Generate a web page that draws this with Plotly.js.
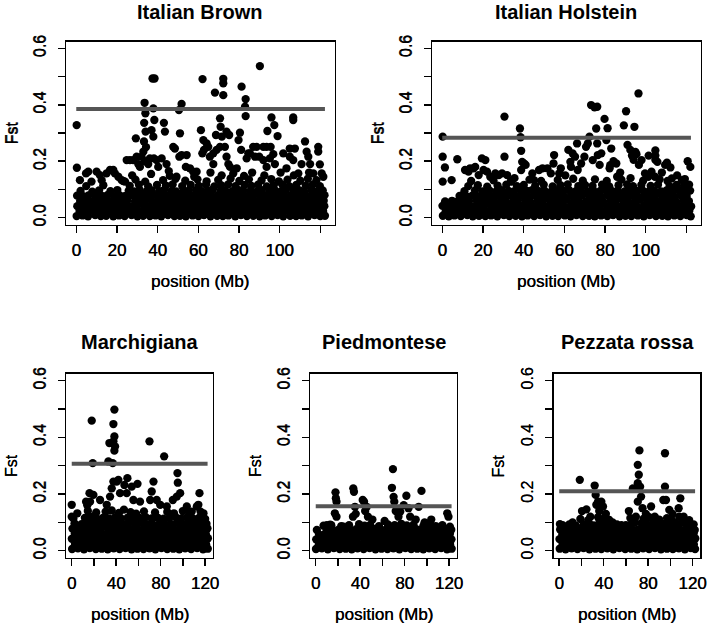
<!DOCTYPE html>
<html><head><meta charset="utf-8">
<script src="https://cdn.plot.ly/plotly-3.0.1.min.js"></script>
<style>html,body{margin:0;padding:0;background:#fff}#chart{width:710px;height:624px}</style>
</head><body><div id="chart"></div>
<script>
const panelNames = ['Italian Brown','Italian Holstein','Marchigiana','Piedmontese','Pezzata rossa'];
const thresholds = [0.385, 0.283, 0.307, 0.157, 0.21];
const lineStart = 0, lineEnd = 122.3;
const xTickVals = [0,20,40,60,80,100,120];
const xTickTextTop = ['0','20','40','60','80','100',''];
const xTickTextBottom = ['0','','40','','80','','120'];
const yTickVals = [0,0.1,0.2,0.3,0.4,0.5,0.6];
const yTickText = ['0.0','','0.2','','0.4','','0.6'];

const brown = [
[0.2,.006],[3.1,.008],[5.8,.005],[9.3,.009],[12.1,.006],[14.7,.007],[18.2,.005],[21,.008],[23.8,.006],[27.2,.009],[30.1,.005],[32.9,.007],[36.2,.006],[39,.008],[41.8,.005],[45.1,.009],[48.3,.006],[51,.007],[53.9,.005],[57.2,.008],[60.1,.006],[62.8,.009],[66,.005],[69.3,.007],[72.1,.006],[74.8,.008],[78.2,.005],[81,.009],[83.9,.006],[87.1,.007],[90.2,.005],[92.9,.008],[96.1,.006],[99,.009],[101.8,.005],[105.2,.007],[108.1,.006],[110.9,.008],[114,.005],[117.2,.009],[120,.006],[122.3,.007],
[1.6,.024],[4.4,.022],[7.5,.025],[10.6,.021],[13.4,.023],[16.5,.026],[19.6,.022],[22.4,.024],[25.5,.021],[28.6,.025],[31.4,.023],[34.5,.022],[37.6,.026],[40.4,.024],[43.5,.021],[46.6,.023],[49.4,.025],[52.5,.022],[55.6,.024],[58.4,.021],[61.5,.026],[64.6,.023],[67.4,.022],[70.5,.025],[73.6,.024],[76.4,.021],[79.5,.023],[82.6,.026],[85.4,.022],[88.5,.024],[91.6,.021],[94.4,.025],[97.5,.023],[100.6,.022],[103.4,.026],[106.5,.024],[109.6,.021],[112.4,.023],[115.5,.025],[118.6,.022],[121.4,.024],
[0.5,.041],[2.9,.043],[6.2,.04],[9,.044],[11.8,.042],[15.1,.039],[18,.043],[20.8,.041],[24.2,.044],[27,.04],[29.9,.042],[33.2,.045],[36,.041],[38.8,.043],[42.1,.04],[45,.044],[47.9,.042],[51.2,.039],[54.1,.043],[57,.041],[59.8,.044],[63.1,.04],[66.2,.042],[69,.045],[71.8,.041],[75.1,.043],[78,.04],[80.9,.044],[84.2,.042],[87,.039],[89.8,.043],[93.1,.041],[96,.044],[98.9,.04],[102.1,.042],[105,.045],[107.9,.041],[111.1,.043],[114.2,.04],[117,.044],[119.9,.042],[122,.041],
[1.9,.059],[4.7,.061],[7.8,.058],[10.3,.062],[13.6,.06],[16.2,.057],[19.3,.061],[22.7,.059],[25.2,.062],[28.9,.058],[31.7,.06],[34.2,.063],[37.3,.059],[40.7,.061],[43.8,.058],[46.3,.062],[49.7,.06],[52.2,.057],[55.3,.061],[58.7,.059],[61.2,.062],[64.3,.058],[67.7,.06],[70.2,.063],[73.3,.059],[76.7,.061],[79.2,.058],[82.3,.062],[85.7,.06],[88.2,.057],[91.3,.061],[94.7,.059],[97.2,.062],[100.3,.058],[103.7,.06],[106.2,.063],[109.3,.059],[112.7,.061],[115.2,.058],[118.3,.062],[121.7,.06],
[0.4,.078],[3.3,.076],[6,.079],[9.5,.075],[12.4,.078],[15.3,.08],[18.5,.076],[21.4,.079],[24.1,.077],[27.4,.08],[30.3,.076],[33.1,.079],[36.5,.077],[39.3,.08],[42.2,.076],[45.4,.079],[48,.077],[51.4,.08],[54.3,.076],[57.5,.079],[60.4,.077],[63.3,.08],[66.4,.076],[69.5,.079],[72.3,.077],[75.4,.08],[78.4,.076],[81.3,.079],[84.5,.077],[87.3,.08],[90.4,.076],[93.3,.079],[96.4,.077],[99.3,.08],[102.4,.076],[105.5,.079],[108.4,.077],[111.3,.08],[114.4,.076],[117.4,.079],[120.3,.077],[122.1,.08],
[2.1,.095],[7.9,.092],[11.2,.097],[16.8,.094],[20.2,.098],[25.8,.096],[28.4,.093],[31.2,.098],[34.8,.095],[37.1,.097],[40.9,.094],[43.2,.098],[46.9,.095],[49.1,.093],[52.9,.097],[55.2,.095],[58.9,.098],[61.8,.094],[64.9,.096],[67.1,.099],[70.9,.095],[73.2,.097],[76.8,.094],[79.9,.098],[82.1,.095],[85.8,.097],[88.9,.093],[91.2,.098],[94.9,.095],[97.8,.097],[100.9,.094],[103.1,.098],[106.8,.095],[109.9,.097],[112.1,.093],[115.8,.098],[118.9,.095],[121.2,.097],
[4.9,.112],[13.3,.115],[26.3,.113],[30.8,.117],[35.4,.111],[39.7,.116],[44.1,.114],[47.4,.118],[52.1,.112],[56.3,.116],[60.3,.113],[63.8,.117],[67.9,.111],[71.2,.115],[74.7,.118],[78.3,.112],[82.8,.116],[86.1,.113],[89.4,.117],[93.7,.111],[97.1,.115],[101.3,.118],[104.7,.112],[108.2,.116],[112.9,.113],[116.3,.117],[119.8,.112],
[23.1,.13],[29.1,.135],[33.9,.128],[42.7,.133],[48.8,.138],[53.6,.131],[59.6,.136],[64.1,.129],[69.8,.134],[75.9,.139],[80.2,.13],[84.9,.136],[91.1,.132],[95.9,.137],[99.6,.129],[103.9,.135],[110.2,.131],[113.9,.138],[118.1,.133],
[27.5,.15],[36.8,.155],[46,.148],[58,.145],[66,.16],[71.5,.15],[82.5,.148],[86.5,.16],[92.5,.15],[100.5,.16],[107,.15],[114.5,.16],
[0.2,.328],[0.3,.177],[1.8,.133],[4.8,.157],[5.9,.163],[7.5,.128],[10,.163],[11.6,.151],[12.5,.133],[14.9,.157],[16.6,.169],[18.2,.169],[19,.157],[20.7,.145],[22.3,.133],[24,.128],[24.8,.204],[26.4,.204],[28,.204],[29.7,.216],[29.3,.281],[31.3,.18],[30.5,.19],
[33.6,.407],[34,.37],[33.4,.336],[34.1,.305],[33.3,.27],[34.3,.25],[33,.234],[33.8,.2],[32.1,.216],[35.4,.19],[36.2,.21],[37.5,.493],[38.5,.493],[37.9,.387],[38.4,.346],[37,.31],[37.9,.287],[38.2,.21],[39.5,.204],[40.3,.18],[42,.21],[43.1,.336],[43.6,.305],[44.4,.19],[47.7,.251],[48.5,.245],[45.5,.165],
[51.8,.403],[50.5,.381],[51,.299],[50.7,.216],[51.8,.222],[49.3,.145],[54.3,.222],[53.9,.18],[55.9,.175],[57.5,.163],[59.2,.163],
[62.1,.491],[61.3,.31],[62.5,.275],[62.8,.24],[62,.228],[64.1,.263],[64.9,.251],[65.7,.216],[67.4,.228],[68.2,.443],[68.7,.293],[69,.24],[67.4,.19],
[72.3,.492],[72.3,.476],[72.3,.434],[70.7,.352],[71,.322],[71.6,.287],[70.7,.251],[73.1,.251],[73.9,.305],[75.2,.293],[73.9,.216],[74.8,.19],[75.6,.18],[77.2,.157],[78.9,.175],[79.8,.275],
[81.3,.464],[83.3,.42],[83,.393],[83.3,.36],[80.5,.301],[81.1,.24],[83.8,.21],[84.6,.228],[85.4,.228],[87,.251],[88.7,.251],[87.9,.216],[90,.216],
[90.3,.537],[92,.251],[93.6,.251],[94,.307],[95.6,.251],[96,.355],[97.4,.328],[99,.289],[96.9,.225],[95.2,.21],[97.7,.19],[93.6,.18],[92,.204],
[101.8,.228],[103.4,.175],[105,.245],[107.5,.245],[106.7,.355],[106.7,.346],[105,.216],[106.7,.204],[109.2,.157],[110.8,.19],
[112.5,.27],[113.3,.234],[114.1,.216],[115,.19],[116.6,.157],[119,.251],[119,.234],[119.8,.189],[120.7,.157],[121.5,.145]
];

const holstein = [
[0.3,.007],[3.2,.005],[6,.008],[9.1,.006],[12.3,.009],[15,.005],[18.1,.007],[21.2,.006],[24,.008],[27.1,.005],[30.3,.009],[33,.006],[36.1,.007],[39.2,.005],[42,.008],[45.2,.006],[48.1,.009],[51.1,.005],[54.2,.007],[57,.006],[60.3,.008],[63.1,.005],[66,.009],[69.1,.006],[72.2,.007],[75,.005],[78.1,.008],[81.2,.006],[84,.009],[87.2,.005],[90.1,.007],[93,.006],[96.2,.008],[99.1,.005],[102,.009],[105.1,.006],[108.2,.007],[111,.005],[114.1,.008],[117.1,.006],[120.2,.009],[122.2,.005],
[1.7,.023],[4.5,.025],[7.6,.021],[10.5,.024],[13.5,.022],[16.6,.026],[19.5,.023],[22.5,.021],[25.6,.025],[28.5,.022],[31.5,.024],[34.6,.026],[37.5,.021],[40.5,.023],[43.6,.025],[46.5,.022],[49.5,.024],[52.6,.021],[55.5,.026],[58.5,.023],[61.6,.022],[64.5,.025],[67.5,.024],[70.6,.021],[73.5,.023],[76.5,.026],[79.6,.022],[82.5,.024],[85.5,.021],[88.6,.025],[91.5,.023],[94.5,.022],[97.6,.026],[100.5,.024],[103.5,.021],[106.6,.023],[109.5,.025],[112.5,.022],[115.6,.024],[118.5,.021],[121.5,.025],
[0.1,.042],[3,.04],[6.3,.044],[8.9,.041],[12,.043],[15.2,.039],[17.9,.042],[21,.045],[24.3,.04],[26.9,.043],[30,.041],[33.3,.044],[35.9,.04],[39,.042],[42.2,.045],[44.9,.041],[48,.043],[51.3,.04],[53.9,.044],[57.1,.042],[60,.039],[63.2,.043],[65.9,.041],[69.2,.044],[72,.04],[75.3,.042],[77.9,.045],[81,.041],[84.3,.043],[86.9,.04],[90.2,.044],[93.1,.042],[95.9,.039],[99.2,.043],[102.1,.041],[104.9,.044],[108,.04],[111.3,.042],[113.9,.045],[117.2,.041],[120,.043],[122.4,.04],
[1.4,.058],[4.8,.06],[7.3,.057],[10.8,.061],[13.2,.059],[16.8,.062],[19.3,.058],[22.8,.06],[25.3,.063],[28.8,.059],[31.2,.061],[34.8,.058],[37.2,.062],[40.8,.06],[43.2,.057],[46.8,.061],[49.3,.059],[52.8,.062],[55.2,.058],[58.8,.06],[61.3,.063],[64.8,.059],[67.2,.061],[70.8,.058],[73.3,.062],[76.8,.06],[79.2,.057],[82.8,.061],[85.3,.059],[88.8,.062],[91.2,.058],[94.8,.06],[97.3,.063],[100.8,.059],[103.2,.061],[106.8,.058],[109.3,.062],[112.8,.06],[115.2,.057],[118.8,.061],[121.3,.059],
[8.5,.077],[12.1,.075],[14.9,.079],[18.3,.076],[21.1,.078],[24.4,.075],[27.3,.079],[30.1,.077],[33.4,.08],[36.2,.076],[39.1,.078],[42.4,.075],[45.3,.079],[48.2,.077],[51,.08],[54.4,.076],[57.3,.078],[60.1,.075],[63.4,.079],[66.2,.077],[69,.08],[72.4,.076],[75.3,.078],[78.1,.075],[81.4,.079],[84.2,.077],[87,.08],[90.4,.076],[93.3,.078],[96.1,.075],[99.4,.079],[102.2,.077],[105,.08],[108.4,.076],[111.3,.078],[114.1,.075],[117.4,.079],[120.2,.077],
[10.9,.094],[16.1,.097],[19.8,.093],[23.3,.096],[26.7,.094],[29.2,.098],[32.6,.095],[35.1,.093],[38.4,.097],[41.7,.095],[44.2,.098],[47.6,.094],[50.3,.096],[53.7,.093],[56.2,.097],[59.6,.095],[62.3,.098],[65.7,.094],[68.2,.096],[71.6,.093],[74.3,.097],[77.7,.095],[80.2,.098],[83.6,.094],[86.3,.096],[89.7,.093],[92.2,.097],[95.6,.095],[98.3,.098],[101.7,.094],[104.2,.096],[107.6,.093],[110.3,.097],[113.7,.095],[116.2,.098],[119.6,.094],[121.9,.096],
[12.8,.112],[17.5,.115],[22.1,.11],[27.2,.114],[31.5,.117],[36.7,.112],[40.1,.116],[45.7,.113],[49.9,.117],[54.3,.111],[58.1,.115],[61.7,.118],[66.9,.112],[70.2,.116],[73.9,.113],[78.6,.117],[82.1,.111],[86.7,.115],[90.9,.118],[93.8,.112],[97.9,.116],[102.5,.113],[106.1,.117],[111.8,.112],[115.3,.116],[118.9,.113],[121.4,.117],
[14.2,.13],[25.2,.132],[34.1,.128],[42.9,.135],[48.6,.13],[56.8,.134],[64.4,.138],[69.1,.131],[75.1,.136],[80.9,.13],[88.1,.135],[92.6,.14],[98.8,.131],[106.9,.136],[110.8,.13],[119.3,.137],
[0.2,.287],[0.2,.216],[1.3,.178],[0.2,.128],[4.6,.133],[7.4,.207],[12.9,.163],[11.2,.169],[13.7,.175],[15.4,.175],[16.2,.18],[17.9,.151],[19.5,.21],[21.2,.204],[20.3,.169],[22,.163],[23.6,.145],[26.1,.157],[27.8,.151],[30.6,.358],[30.6,.216],[29.4,.157],[31.9,.151],
[38.2,.316],[38.5,.285],[38.8,.237],[39.3,.198],[40.2,.192],[41,.187],[38.8,.169],[44.3,.157],[45.1,.133],[47.6,.169],[49.3,.175],[55,.222],[54.7,.192],[53.4,.157],[51.7,.175],[57.5,.157],[58.3,.175],
[62,.24],[63,.198],[64.1,.228],[63.3,.18],[66.3,.263],[65.3,.216],[66.6,.169],[68.3,.192],[69.9,.216],[70.7,.251],[71.6,.263],[72.4,.287],[73.2,.399],[74.9,.391],[76.2,.393],[75.7,.316],[76.2,.263],[76.5,.222],[74,.204],[77.4,.187],[78.2,.228],
[79.8,.35],[80.7,.275],[81.3,.317],[82.3,.175],[83.1,.245],[84.2,.2],[82.6,.186],[85.6,.192],[89.3,.327],[90.4,.377],[91.1,.258],[92.5,.24],[93.3,.22],[94.1,.205],[95,.233],[94.5,.322],[95.5,.225],[96.5,.44],[96.7,.187],[98,.204],
[99.7,.157],[101.3,.145],[101.5,.22],[102.9,.163],[104.8,.238],[104.8,.22],[104.8,.205],[105.8,.198],[104.6,.145],[109.6,.187],[110.5,.195],[112.2,.178],[112.9,.139],[117.9,.133],[120.7,.2],[122,.18],[115.5,.15],[108,.16],[87.5,.16],[86,.145],[60.5,.15],[35.5,.14],[33.8,.13]
];

const marchigiana = [
[0.3,.006],[5.6,.008],[11,.005],[16.2,.009],[21.7,.006],[27,.007],[32.4,.005],[37.8,.008],[43.1,.006],[48.5,.009],[53.9,.005],[59.2,.007],[64.6,.006],[70,.008],[75.3,.005],[80.7,.009],[86,.006],[91.4,.007],[96.8,.005],[102.1,.008],[107.5,.006],[112.9,.009],[118.2,.005],[122.5,.007],
[2.9,.024],[8.3,.022],[13.7,.025],[19,.021],[24.4,.023],[29.7,.026],[35.1,.022],[40.5,.024],[45.8,.021],[51.2,.025],[56.6,.023],[61.9,.022],[67.3,.026],[72.6,.024],[78,.021],[83.4,.023],[88.7,.025],[94.1,.022],[99.5,.024],[104.8,.021],[110.2,.026],[115.6,.023],[121,.022],
[0.1,.042],[5.4,.04],[10.8,.044],[16.5,.041],[21.5,.043],[27.2,.039],[32.2,.042],[38,.045],[42.9,.04],[48.7,.043],[53.7,.041],[59.4,.044],[64.4,.04],[70.2,.042],[75.1,.045],[80.9,.041],[85.8,.043],[91.6,.04],[96.6,.044],[102.3,.042],[107.3,.039],[113.1,.043],[118,.041],[122.6,.044],
[2.7,.06],[8.5,.058],[13.5,.062],[19.2,.059],[24.2,.061],[29.9,.057],[34.9,.06],[40.7,.063],[45.6,.059],[51.4,.061],[56.4,.058],[62.1,.062],[67.1,.06],[72.8,.057],[77.8,.061],[83.6,.059],[88.5,.062],[94.3,.058],[99.3,.06],[105,.063],[110,.059],[115.8,.061],[120.8,.058],
[0.6,.078],[5.9,.08],[11.3,.076],[16,.079],[21.9,.077],[26.8,.08],[32.7,.076],[37.5,.079],[43.4,.077],[48.2,.08],[54.2,.076],[58.9,.079],[64.9,.077],[69.7,.08],[75.6,.076],[80.4,.079],[86.3,.077],[91.1,.08],[97.1,.076],[101.8,.079],[107.8,.077],[112.6,.08],[118.5,.076],[122.2,.079],
[2.5,.096],[8.8,.094],[14.2,.098],[19.4,.095],[24.7,.097],[30.1,.094],[35.4,.098],[40.2,.096],[46.1,.093],[51,.097],[56.9,.095],[62.4,.098],[67.6,.094],[72.3,.096],[78.3,.093],[83.1,.097],[89,.095],[94.6,.098],[99.8,.094],[104.5,.096],[110.5,.093],[115.3,.097],[121.3,.095],
[1.5,.114],[11.8,.116],[17.4,.119],[22.8,.113],[28.5,.117],[33.6,.114],[39.2,.118],[44.7,.113],[50.5,.117],[55.1,.112],[60.8,.116],[66.4,.119],[71.9,.114],[77.2,.117],[82.6,.113],[87.9,.116],[93.5,.119],[98.7,.114],[103.9,.117],[109.4,.113],[114.5,.116],[120.1,.112],
[5,.132],[14.5,.14],[22,.135],[30.5,.138],[36,.142],[42.5,.133],[47,.145],[53,.136],[58,.131],[65,.139],[75,.135],[86,.137],[92,.132],[100,.14],[106,.134],[116,.138],
[18,.459],[18.9,.309],[36.9,.309],[33,.315],[33.9,.38],[37.5,.447],[38.4,.498],[38.4,.403],[39,.368],[38.4,.353],[37.5,.386],[70,.386],[83.2,.333],[95.2,.274],[95.5,.24],[97.6,.203],[94.6,.191],[91,.179],[0,.162],[12.9,.173],[16,.203],[19.5,.197],
[37.5,.244],[40.5,.244],[42,.25],[36,.22],[50.1,.256],[47.4,.232],[49.5,.203],[59.2,.236],[73.6,.244],[72,.209],[70.6,.179],[115,.203],[114,.162],[118.6,.132],
[25.5,.179],[31.5,.162],[34.5,.191],[43.5,.203],[54,.226],[55.5,.179],[61.5,.173],[76.5,.179],[79.6,.162],[85.6,.156],[103.6,.156],[108,.138],[112.6,.156],[14,.16],[16.5,.173],[0,.12]
];

const piedmontese = [
[0.2,.006],[5.5,.008],[10.9,.005],[16.3,.009],[21.6,.006],[27,.007],[32.4,.005],[37.7,.008],[43.1,.006],[48.5,.009],[53.8,.005],[59.2,.007],[64.6,.006],[69.9,.008],[75.3,.005],[80.7,.009],[86,.006],[91.4,.007],[96.8,.005],[102.1,.008],[107.5,.006],[112.9,.009],[118.2,.005],[122.4,.007],
[2.8,.023],[8.2,.025],[13.6,.021],[19,.024],[24.3,.022],[29.7,.026],[35.1,.023],[40.4,.021],[45.8,.025],[51.2,.022],[56.5,.024],[61.9,.021],[67.3,.026],[72.6,.023],[78,.022],[83.4,.025],[88.7,.024],[94.1,.021],[99.5,.023],[104.8,.026],[110.2,.022],[115.6,.024],[121,.021],
[0.4,.04],[5.7,.042],[11.1,.039],[16.1,.043],[21.8,.041],[26.8,.044],[32.6,.04],[37.5,.042],[43.3,.045],[48.3,.041],[54,.043],[59,.04],[64.8,.044],[69.7,.042],[75.5,.039],[80.5,.043],[86.2,.041],[91.2,.044],[97,.04],[101.9,.042],[107.7,.045],[112.7,.041],[118.4,.043],[122.2,.04],
[3,.057],[8,.059],[13.8,.056],[18.8,.06],[24.5,.058],[29.5,.061],[35.3,.057],[40.2,.059],[46,.062],[51,.058],[56.7,.06],[61.7,.057],[67.5,.061],[72.4,.059],[78.2,.056],[83.2,.06],[88.9,.058],[93.9,.061],[99.7,.057],[104.6,.059],[110.4,.062],[115.4,.058],[120.8,.06],
[1,.073],[10.5,.075],[14.5,.078],[20.5,.074],[26,.077],[31,.073],[36.5,.076],[42,.078],[47.5,.074],[52.5,.077],[58,.073],[63.5,.076],[69,.078],[74,.074],[79.5,.077],[85,.073],[90.5,.076],[96,.078],[101,.074],[106.5,.077],[111.5,.073],[117,.076],[122,.074],
[7,.088],[13,.092],[23,.087],[30,.09],[39,.094],[44,.088],[49,.091],[57,.087],[65,.093],[71,.09],[77,.095],[82,.089],[88,.092],[97,.088],[103,.093],[108,.087],[114,.09],
[69.5,.288],[68.6,.222],[70.1,.19],[70.7,.173],[17.8,.206],[18.1,.185],[18.7,.173],[17.2,.132],[18.7,.12],[33.8,.22],[34.4,.208],[35.3,.155],[43.5,.173],[42.3,.179],[45.9,.155],[81.6,.194],[79.2,.161],[76.1,.138],[95.2,.211],[92.7,.155],[118.4,.132],[120.8,.085],[119.5,.12],
[44.5,.14],[47,.12],[36,.13],[33.5,.12],[51,.11],[72,.14],[74.5,.12],[83.5,.15],[85,.12],[90,.11],[98,.1],[104,.11],[62,.105],[10,.09],[14,.09],[25,.085],[29,.08]
];

const pezzata = [
[0.4,.007],[5.7,.005],[11.1,.008],[16.4,.006],[21.9,.009],[27.2,.005],[32.6,.007],[37.9,.006],[43.3,.008],[48.7,.005],[54.1,.009],[59.4,.006],[64.8,.007],[70.2,.005],[75.5,.008],[80.9,.006],[86.2,.009],[91.6,.005],[97,.007],[102.3,.006],[107.7,.008],[113.1,.005],[118.4,.009],[122.3,.006],
[3,.024],[8.4,.022],[13.8,.026],[19.2,.023],[24.6,.021],[29.9,.025],[35.3,.022],[40.7,.024],[46,.021],[51.4,.026],[56.8,.023],[62.1,.022],[67.5,.025],[72.8,.024],[78.2,.021],[83.6,.023],[88.9,.026],[94.3,.022],[99.7,.024],[105,.021],[110.4,.025],[115.8,.023],[121.2,.022],
[0.2,.041],[5.5,.044],[10.9,.04],[16.6,.042],[21.7,.045],[27.4,.041],[32.4,.043],[38.1,.04],[43.1,.044],[48.9,.042],[53.9,.039],[59.6,.043],[64.6,.041],[70.4,.044],[75.3,.04],[81.1,.042],[86,.045],[91.8,.041],[96.8,.043],[102.5,.04],[107.5,.044],[113.3,.042],[118.2,.039],[122.5,.043],
[2.8,.058],[8.6,.06],[13.6,.057],[19.4,.061],[24.4,.059],[30.1,.062],[35.1,.058],[40.9,.06],[45.8,.063],[51.6,.059],[56.6,.061],[62.3,.058],[67.3,.062],[73,.06],[78,.057],[83.8,.061],[88.7,.059],[94.5,.062],[99.5,.058],[105.2,.06],[110.2,.063],[116,.059],[121,.061],
[0.8,.075],[6,.077],[11.4,.074],[17,.078],[22.2,.076],[27.6,.073],[33,.077],[38.4,.075],[43.6,.078],[49.2,.074],[54.4,.076],[60,.073],[65.2,.077],[70.6,.075],[76,.078],[81.4,.074],[86.6,.076],[92,.073],[97.4,.077],[102.8,.075],[108,.078],[113.6,.074],[119,.076],[122,.073],
[3,.09],[9,.093],[15,.088],[22,.092],[27,.095],[31,.089],[36,.096],[41,.091],[46,.088],[52,.093],[60,.09],[65,.094],[68,.1],[74,.097],[79,.092],[84,.096],[89,.09],[94,.095],[99,.091],[106,.094],[110,.098],[115,.09],[121,.093],
[19,.112],[26,.108],[35,.118],[40,.113],[45,.109],[64,.115],[69,.12],[76,.113],[81,.118],[88,.11],[97,.115],[101,.11],[108,.12],[113,.105],
[18.5,.25],[31.9,.23],[32.8,.197],[34.9,.173],[33.4,.162],[37.9,.173],[39.4,.156],[0.6,.094],[24.5,.146],[20.5,.14],[72.2,.354],[70.7,.303],[71.6,.268],[70.7,.238],[72.8,.226],[69.3,.22],[66.3,.22],[73.7,.191],[70.7,.173],[62.7,.14],[82.7,.156],
[95.2,.344],[95.2,.226],[93.7,.179],[96.1,.179],[99.1,.144],[109,.185],[107.5,.15],[117,.108],[42,.13],[44,.11],[36,.14],[28,.12],[48,.1],[56,.09],[75,.15],[78,.13],[86,.12],[90,.11],[102,.13],[104,.1],[112,.12],[120,.09],[12,.1],[8,.075],[4,.07]
];

const datasets = [brown, holstein, marchigiana, piedmontese, pezzata];

const W = 710, H = 624;
// plot boxes in pixels: [left, right, top, bottom]
const boxes = [
  [66.3, 334.5, 41.5, 224.5],
  [432.3, 700.5, 41.5, 224.5],
  [66.3, 212.8, 373.9, 557.5],
  [310.3, 456.8, 373.9, 557.5],
  [553.8, 700.3, 373.9, 557.5]
];
const heavy = '0.35px 0 0 #000';

const traces = [];
const layout = {
  width: W, height: H,
  margin: {l:0, r:0, t:0, b:0},
  paper_bgcolor: '#fff', plot_bgcolor: '#fff',
  showlegend: false,
  font: {family: 'Liberation Sans, Arial, Helvetica, sans-serif', color: '#000'},
  annotations: []
};

datasets.forEach((d, i) => {
  const n = i + 1;
  const xa = 'x' + (n === 1 ? '' : n), ya = 'y' + (n === 1 ? '' : n);
  const [l, r, t, b] = boxes[i];
  const top = i < 2;
  traces.push({
    type: 'scatter', mode: 'markers', xaxis: xa, yaxis: ya,
    x: d.map(p => p[0]), y: d.map(p => p[1]),
    marker: {color: '#000', size: 8.3, line: {width: 0}},
    hoverinfo: 'skip'
  });
  traces.push({
    type: 'scatter', mode: 'lines', xaxis: xa, yaxis: ya,
    x: [lineStart, lineEnd], y: [thresholds[i], thresholds[i]],
    line: {color: '#555555', width: 4}, hoverinfo: 'skip'
  });
  const axCommon = {
    showline: true, mirror: true, linecolor: '#000', linewidth: 1.5,
    ticks: 'outside', ticklen: 7, tickwidth: 1.5, tickcolor: '#000',
    showgrid: false, zeroline: false, fixedrange: true
  };
  layout['xaxis' + (n === 1 ? '' : n)] = Object.assign({}, axCommon, {
    domain: [l / W, r / W], anchor: ya, range: [-4.9, 127],
    tickmode: 'array', tickvals: xTickVals,
    ticktext: top ? xTickTextTop : xTickTextBottom,
    tickfont: {size: 17, color: '#000', shadow: heavy}, ticklabelstandoff: 3
  });
  layout['yaxis' + (n === 1 ? '' : n)] = Object.assign({}, axCommon, {
    domain: [1 - b / H, 1 - t / H], anchor: xa, range: [-0.024, 0.624],
    tickmode: 'array', tickvals: yTickVals, ticktext: yTickText, tickangle: -90,
    tickfont: {size: 16, color: '#000', shadow: '0 0.35px 0 #000'}, ticklabelstandoff: 6
  });
  const cx = (l + r) / 2;
  layout.annotations.push({
    text: '<b>' + panelNames[i] + '</b>', xref: 'paper', yref: 'paper',
    x: cx / W, y: 1 - (top ? 11.7 : 342) / H, xanchor: 'center', yanchor: 'middle',
    showarrow: false, font: {size: 20, color: '#000'}
  });
  layout.annotations.push({
    text: 'position (Mb)', xref: 'paper', yref: 'paper',
    x: cx / W, y: 1 - (top ? 281 : 614) / H, xanchor: 'center', yanchor: 'middle',
    showarrow: false, font: {size: 17, color: '#000', shadow: heavy}
  });
  layout.annotations.push({
    text: 'Fst', xref: 'paper', yref: 'paper', textangle: -90,
    x: (l - 55) / W, y: 1 - ((t + b) / 2) / H, xanchor: 'center', yanchor: 'middle',
    showarrow: false, font: {size: 16, color: '#000', shadow: '0 0.35px 0 #000'}
  });
});

Plotly.newPlot('chart', traces, layout, {staticPlot: true, displayModeBar: false});
</script>
</body></html>
